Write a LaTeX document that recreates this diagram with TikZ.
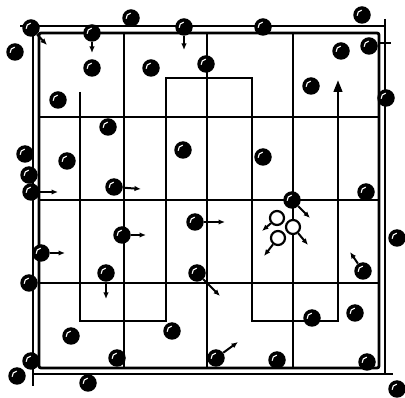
\documentclass[tikz,border=0pt]{standalone}
\usetikzlibrary{arrows.meta}
\tikzset{
  ball/.style={circle,fill=black,minimum size=17.5pt,inner sep=0pt,
    path picture={\draw[white,line width=1.1pt,line cap=round]
      (path picture bounding box.center) ++(95:4.8pt) arc[start angle=95,end angle=185,radius=4.8pt];}},
  openball/.style={circle,draw=black,fill=white,line width=2.2pt,minimum size=14pt,inner sep=0pt},
  mv/.style={line width=2pt,-{Latex[length=6.5pt,width=5.5pt]}},
  frameline/.style={line width=2.8pt},
  gridline/.style={line width=2.7pt},
  trackline/.style={line width=2.7pt},
  tickline/.style={line width=1.5pt}
}
\begin{document}
\begin{tikzpicture}[x=1pt,y=-1pt]
\useasboundingbox (0,0) rectangle (405,398);
% frame
\draw[frameline,rounded corners=2pt] (39,33) rectangle (379,368);
\coordinate (ot1) at (20,26); \coordinate (ot2) at (385,26);
\coordinate (or1) at (385,19); \coordinate (or2) at (385,374);
\coordinate (ob1) at (33,374); \coordinate (ob2) at (393,374);
\coordinate (ol1) at (33,26); \coordinate (ol2) at (33,386);
\draw[frameline] (ot1) -- (ot2);
\draw[frameline] (or1) -- (or2);
\draw[frameline] (ob1) -- (ob2);
\draw[frameline] (ol1) -- (ol2);
\coordinate (tk1) at (379,43); \coordinate (tk2) at (391,43);
\draw[tickline] (tk1) -- (tk2);
% grid
\foreach \x in {124,207,293} \draw[gridline] (\x,33) -- (\x,368);
\foreach \y in {117,200,283} \draw[gridline] (39,\y) -- (379,\y);
% track
\coordinate (t0) at (80,92);
\coordinate (t1) at (80,321);
\coordinate (t2) at (166,321);
\coordinate (t3) at (166,78);
\coordinate (t4) at (252,78);
\coordinate (t5) at (252,321);
\coordinate (t6) at (338,321);
\coordinate (t7) at (338,80);
\draw[trackline,-{Triangle[length=12pt,width=8.5pt]}] (t0) -- (t1) -- (t2) -- (t3) -- (t4) -- (t5) -- (t6) -- (t7);
% balls
\node[ball] (b1) at (31,28) {};
\node[ball] (b2) at (15,52) {};
\node[ball] (b3) at (92,33) {};
\node[ball] (b4) at (131,18) {};
\node[ball] (b5) at (184,27) {};
\node[ball] (b6) at (92,68) {};
\node[ball] (b7) at (151,68) {};
\node[ball] (b8) at (206,64) {};
\node[ball] (b9) at (58,100) {};
\node[ball] (b10) at (108,127) {};
\node[ball] (b11) at (25,154) {};
\node[ball] (b12) at (67,161) {};
\node[ball] (b13) at (183,150) {};
\node[ball] (b14) at (29,175) {};
\node[ball] (b15) at (31,192) {};
\node[ball] (b16) at (114,187) {};
\node[ball] (b17) at (263,27) {};
\node[ball] (b18) at (362,15) {};
\node[ball] (b19) at (341,51) {};
\node[ball] (b20) at (369,46) {};
\node[ball] (b21) at (311,86) {};
\node[ball] (b22) at (386,98) {};
\node[ball] (b23) at (263,157) {};
\node[ball] (b24) at (366,192) {};
\node[ball] (b25) at (292,200) {};
\node[ball] (b26) at (195,222) {};
\node[ball] (b27) at (122,235) {};
\node[ball] (b28) at (41,253) {};
\node[ball] (b29) at (106,273) {};
\node[ball] (b30) at (29,283) {};
\node[ball] (b31) at (197,273) {};
\node[ball] (b32) at (71,336) {};
\node[ball] (b33) at (172,331) {};
\node[ball] (b34) at (31,361) {};
\node[ball] (b35) at (17,376) {};
\node[ball] (b36) at (117,358) {};
\node[ball] (b37) at (88,383) {};
\node[ball] (b38) at (363,271) {};
\node[ball] (b39) at (397,238) {};
\node[ball] (b40) at (312,318) {};
\node[ball] (b41) at (355,313) {};
\node[ball] (b42) at (216,358) {};
\node[ball] (b43) at (277,360) {};
\node[ball] (b44) at (367,362) {};
\node[ball] (b45) at (397,389) {};
\node[openball] (o1) at (277,218) {};
\node[openball] (o2) at (293,227) {};
\node[openball] (o3) at (278,238) {};
% velocity arrows
\coordinate (a1) at (47,45);
\coordinate (a3) at (92,53);
\coordinate (a5) at (184,50);
\coordinate (a15) at (58,192);
\coordinate (a16) at (141,189);
\coordinate (a25) at (310,218);
\coordinate (a26) at (225,222);
\coordinate (a27) at (146,235);
\coordinate (a28) at (65,253);
\coordinate (a29) at (106,299);
\coordinate (a31) at (220,296);
\coordinate (a38) at (350,252);
\coordinate (a42) at (238,342);
\coordinate (ao1) at (262,231);
\coordinate (ao2) at (308,245);
\coordinate (ao3) at (264,256);
\draw[mv] (b1) -- (a1);
\draw[mv] (b3) -- (a3);
\draw[mv] (b5) -- (a5);
\draw[mv] (b15) -- (a15);
\draw[mv] (b16) -- (a16);
\draw[mv] (b25) -- (a25);
\draw[mv] (b26) -- (a26);
\draw[mv] (b27) -- (a27);
\draw[mv] (b28) -- (a28);
\draw[mv] (b29) -- (a29);
\draw[mv] (b31) -- (a31);
\draw[mv] (b38) -- (a38);
\draw[mv] (b42) -- (a42);
\draw[mv] (o1) -- (ao1);
\draw[mv] (o2) -- (ao2);
\draw[mv] (o3) -- (ao3);
\end{tikzpicture}
\end{document}
